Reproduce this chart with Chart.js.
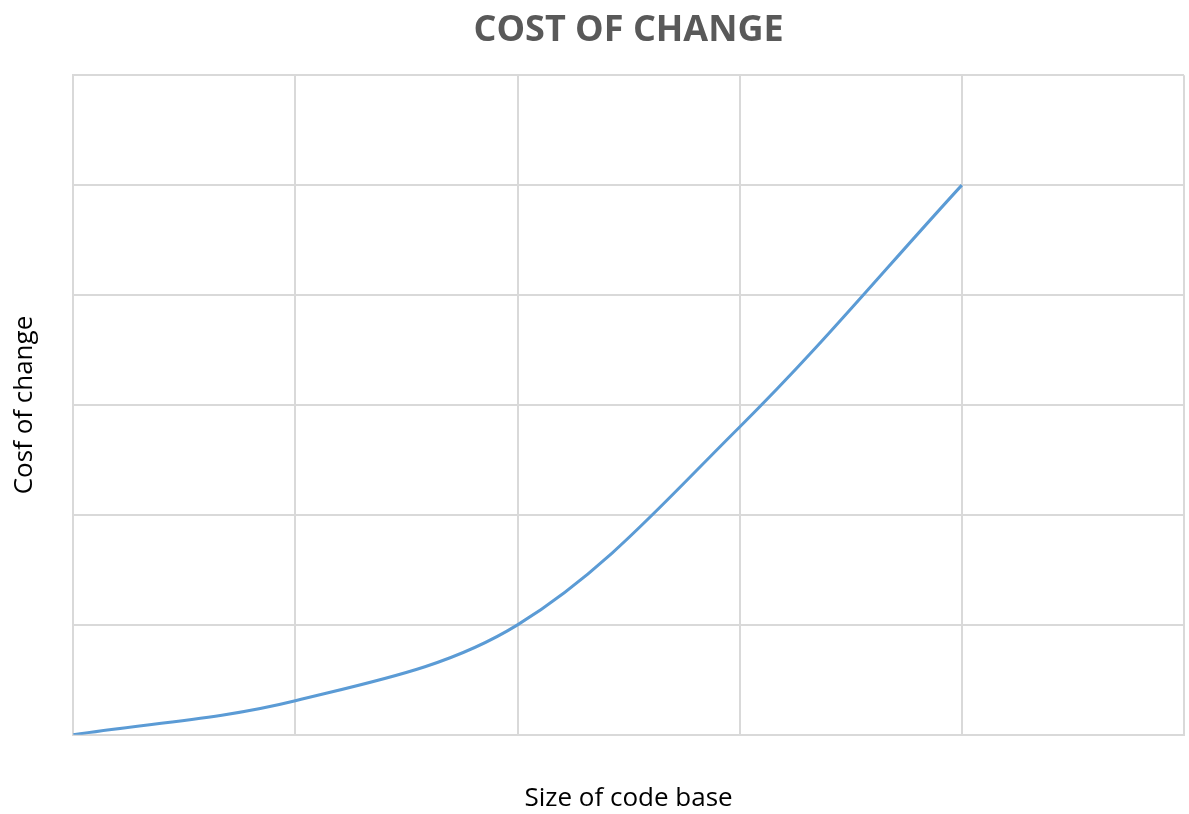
<!DOCTYPE html>
<html>
<head>
<meta charset="utf-8">
<script src="https://cdn.jsdelivr.net/npm/chart.js@4"></script>
<style>
  html, body { margin: 0; padding: 0; background: #fff; }
  #wrap { width: 1189px; height: 814px; }
</style>
</head>
<body>
<div id="wrap"><canvas id="myChart"></canvas></div>
<script>
const sizeOfCodeBase = [0, 1, 2, 3, 4];
const costOfChange = [0, 0.31, 1, 2.8, 5];

const points = sizeOfCodeBase.map((x, i) => ({ x: x, y: costOfChange[i] }));

const ctx = document.getElementById('myChart');
const gridColor = '#d9d9d9';

// centre the title over the plot area rather than the whole canvas
const centerTitle = {
    id: 'centerTitle',
    afterLayout(chart) {
        const tb = chart.titleBlock;
        const area = chart.chartArea;
        if (tb && area) {
            tb.left = area.left;
            tb.right = area.right;
        }
    }
};

new Chart(ctx, {
    type: 'line',
    data: {
        datasets: [{
            label: 'Cost of change',
            data: points,
            borderColor: '#5b9bd5',
            borderWidth: 3,
            pointRadius: 0,
            tension: 0.35,
            fill: false
        }]
    },
    options: {
        responsive: true,
        maintainAspectRatio: false,
        animation: false,
        layout: { padding: { left: 9, right: 5, top: 3, bottom: 0 } },
        plugins: {
            legend: { display: false },
            tooltip: { enabled: false },
            title: {
                display: true,
                text: 'COST OF CHANGE',
                color: '#595959',
                font: { family: 'Open Sans', size: 36, weight: 'bold' },
                padding: { top: 6, bottom: 23 }
            }
        },
        scales: {
            x: {
                type: 'linear',
                min: 0,
                max: 5,
                ticks: { display: false, stepSize: 1 },
                grid: { color: gridColor, lineWidth: 2, drawTicks: false },
                border: { color: gridColor, width: 2 },
                title: {
                    display: true,
                    text: 'Size of code base',
                    color: '#000',
                    font: { family: 'Open Sans', size: 26 },
                    padding: { top: 48, bottom: 0 }
                }
            },
            y: {
                min: 0,
                max: 6,
                ticks: { display: false, stepSize: 1 },
                grid: { color: gridColor, lineWidth: 2, drawTicks: false },
                border: { color: gridColor, width: 2 },
                title: {
                    display: true,
                    text: 'Cosf of change',
                    color: '#000',
                    font: { family: 'Open Sans', size: 26 },
                    padding: { top: 0, bottom: 33 }
                }
            }
        }
    },
    plugins: [centerTitle]
});
</script>
</body>
</html>
